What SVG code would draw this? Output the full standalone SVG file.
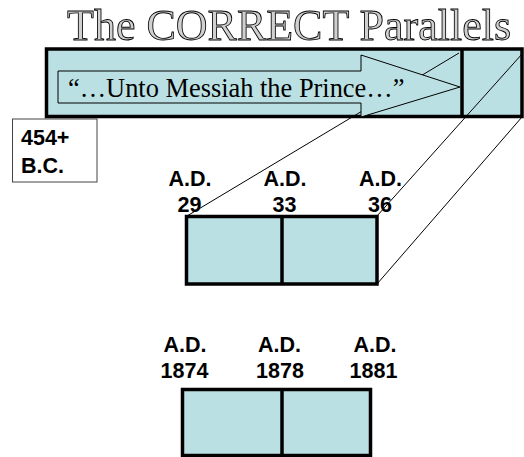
<svg xmlns="http://www.w3.org/2000/svg" width="524" height="457" viewBox="0 0 524 457">
<style>
.fill{fill:#BBE0E3;stroke:#000;stroke-width:3.5}
.div{stroke:#000;stroke-width:3.5}
.thin{stroke:#000;stroke-width:1;fill:none}
.lbl{font-family:"Liberation Sans",Arial,sans-serif;font-weight:bold;font-size:21.5px;fill:#000;text-anchor:middle}
.title{font-family:"Liberation Serif","Times New Roman",serif;font-size:44px;fill:#d0d0d0;stroke:#000;stroke-width:0.85}
</style>
<defs>
<filter id="gray" x="0" y="0" width="1" height="1"><feOffset dx="0" dy="0"/></filter>
</defs>
<rect width="524" height="457" fill="#fff"/>
<g id="title" filter="url(#gray)"><text class="title" x="67" y="39.5">The CORRECT Parallels</text></g>
<g id="bc-box">
<rect x="12.5" y="119" width="84.5" height="63" fill="#fff" stroke="#444" stroke-width="1"/>
<text class="lbl" x="21" y="145" style="text-anchor:start">454+</text>
<text class="lbl" x="21" y="173" style="text-anchor:start">B.C.</text>
</g>
<g id="timeline-bar">
<rect class="fill" x="46.5" y="49" width="475.5" height="67.5"/>
<line class="div" x1="462" y1="49" x2="462" y2="116.5"/>
</g>
<g id="connectors">
<line class="thin" x1="459" y1="53" x2="187" y2="216"/>
<line class="thin" x1="522" y1="54" x2="377" y2="216"/>
<line class="thin" x1="522" y1="117" x2="377" y2="284"/>
</g>
<g id="arrow">
<polygon points="58,71 361,71 361,55 460,87 361,117 361,103 58,103" fill="#BBE0E3" stroke="#000" stroke-width="1"/>
<text x="68" y="97" font-family="'Liberation Serif','Times New Roman',serif" font-size="26.4" fill="#000">“…Unto Messiah the Prince…”</text>
</g>
<g id="box-ad29">
<text class="lbl" x="190" y="186">A.D.</text>
<text class="lbl" x="189.5" y="212">29</text>
<text class="lbl" x="285" y="186">A.D.</text>
<text class="lbl" x="284.5" y="212">33</text>
<text class="lbl" x="380.5" y="186">A.D.</text>
<text class="lbl" x="380" y="212">36</text>
<rect class="fill" x="186.5" y="216.5" width="190.5" height="67.5"/>
<line class="div" x1="282" y1="216.5" x2="282" y2="284"/>
</g>
<g id="box-ad1874">
<text class="lbl" x="185" y="352">A.D.</text>
<text class="lbl" x="184.5" y="378">1874</text>
<text class="lbl" x="279.5" y="352">A.D.</text>
<text class="lbl" x="280" y="378">1878</text>
<text class="lbl" x="375" y="352">A.D.</text>
<text class="lbl" x="373.5" y="378">1881</text>
<rect class="fill" x="182.5" y="389.5" width="188" height="66"/>
<line class="div" x1="282" y1="389.5" x2="282" y2="455.5"/>
</g>
</svg>
